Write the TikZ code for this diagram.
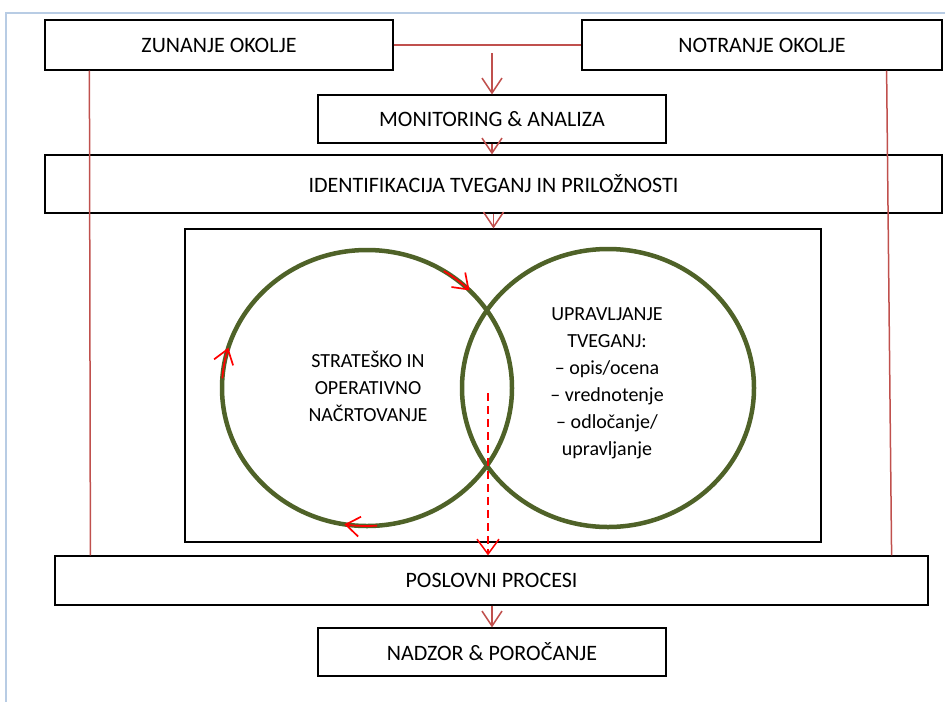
\documentclass[tikz,border=0pt]{standalone}
\usepackage{fontspec}
\setmainfont{Carlito}
\usetikzlibrary{arrows.meta, calc}
\definecolor{linkred}{RGB}{192,80,77}
\definecolor{ringgreen}{RGB}{79,98,40}
\definecolor{frameblue}{RGB}{184,204,228}

\begin{document}
\begin{tikzpicture}[x=1pt, y=-1pt, font=\fontsize{20}{27}\selectfont,
  box/.style={draw, line width=1.2pt, inner sep=0pt, align=center, font=\fontsize{22}{27}\selectfont},
  link/.style={draw=linkred, line width=1.5pt},
  flow/.style={link, -{Straight Barb[length=15pt, width=20pt]}},
  cyc/.style={draw=red, line width=1.7pt, -{Straight Barb[length=14pt, width=20pt]}},
  ring/.style={draw=ringgreen, line width=4.5pt}]
\useasboundingbox (0,0) rectangle (945,702);
\draw[frameblue, line width=1.5pt] (6,702) -- (6,13) -- (945,13);

% boxes
\node[box, minimum width=348pt, minimum height=50pt] (zun) at (219,45) {ZUNANJE OKOLJE};
\node[box, minimum width=360pt, minimum height=50pt] (notr) at (762,45) {NOTRANJE OKOLJE};
\node[box, minimum width=348pt, minimum height=48pt] (mon) at (492,119) {MONITORING \& ANALIZA};
\node[box, minimum width=897pt, minimum height=58pt] (ident) at (493.5,184) {IDENTIFIKACIJA TVEGANJ IN PRILOŽNOSTI};
\node[box, minimum width=636pt, minimum height=313pt] (frame) at (503,385.5) {};
\node[box, minimum width=873pt, minimum height=49pt] (pos) at (491.5,580.5) {POSLOVNI PROCESI};
\node[box, minimum width=348pt, minimum height=48pt] (nad) at (492,652) {NADZOR \& POROČANJE};

% circles
\coordinate (lc) at (367,388);
\coordinate (rc) at (608,388);
\draw[ring] (lc) ellipse[x radius=145, y radius=138];
\draw[ring] (rc) ellipse[x radius=146, y radius=139];
\node[align=center] (plan) at (368,386) {STRATEŠKO IN\\OPERATIVNO\\NAČRTOVANJE};
\node[align=center] (risk) at (607,383) {UPRAVLJANJE\\TVEGANJ:\\– opis/ocena\\– vrednotenje\\– odločanje/\\upravljanje};

% cycle arrows
\draw[cyc] ($(lc)+(-58:145 and 138)$) arc[start angle=-58, end angle=-45, x radius=145, y radius=138];
\draw[cyc] ($(lc)+(-176:145 and 138)$) arc[start angle=-176, end angle=-163, x radius=145, y radius=138];
\draw[cyc] ($(lc)+(-274:145 and 138)$) arc[start angle=-274, end angle=-261, x radius=145, y radius=138];

% connectors
\coordinate (split) at (492,53);
\draw[link] (zun.east) -- (notr.west);
\draw[flow] (split) -- (mon.north);
\draw[flow] (mon.south) -- (ident.north -| mon.south);
\draw[flow] (ident.south) -- (frame.north -| ident.south);
\draw[flow] (pos.south -| nad.north) -- (nad.north);
\draw[link] ([xshift=45pt]zun.south west) -- ([xshift=36pt]pos.north west);
\draw[link] ([xshift=-56pt]notr.south east) -- ([xshift=-37pt]pos.north east);
\coordinate (lens) at (488,393);
\draw[red, line width=1.5pt, dash pattern=on 8pt off 5pt, -{Straight Barb[length=15pt, width=22pt]}] (lens) -- (lens |- pos.north);
\end{tikzpicture}
\end{document}
